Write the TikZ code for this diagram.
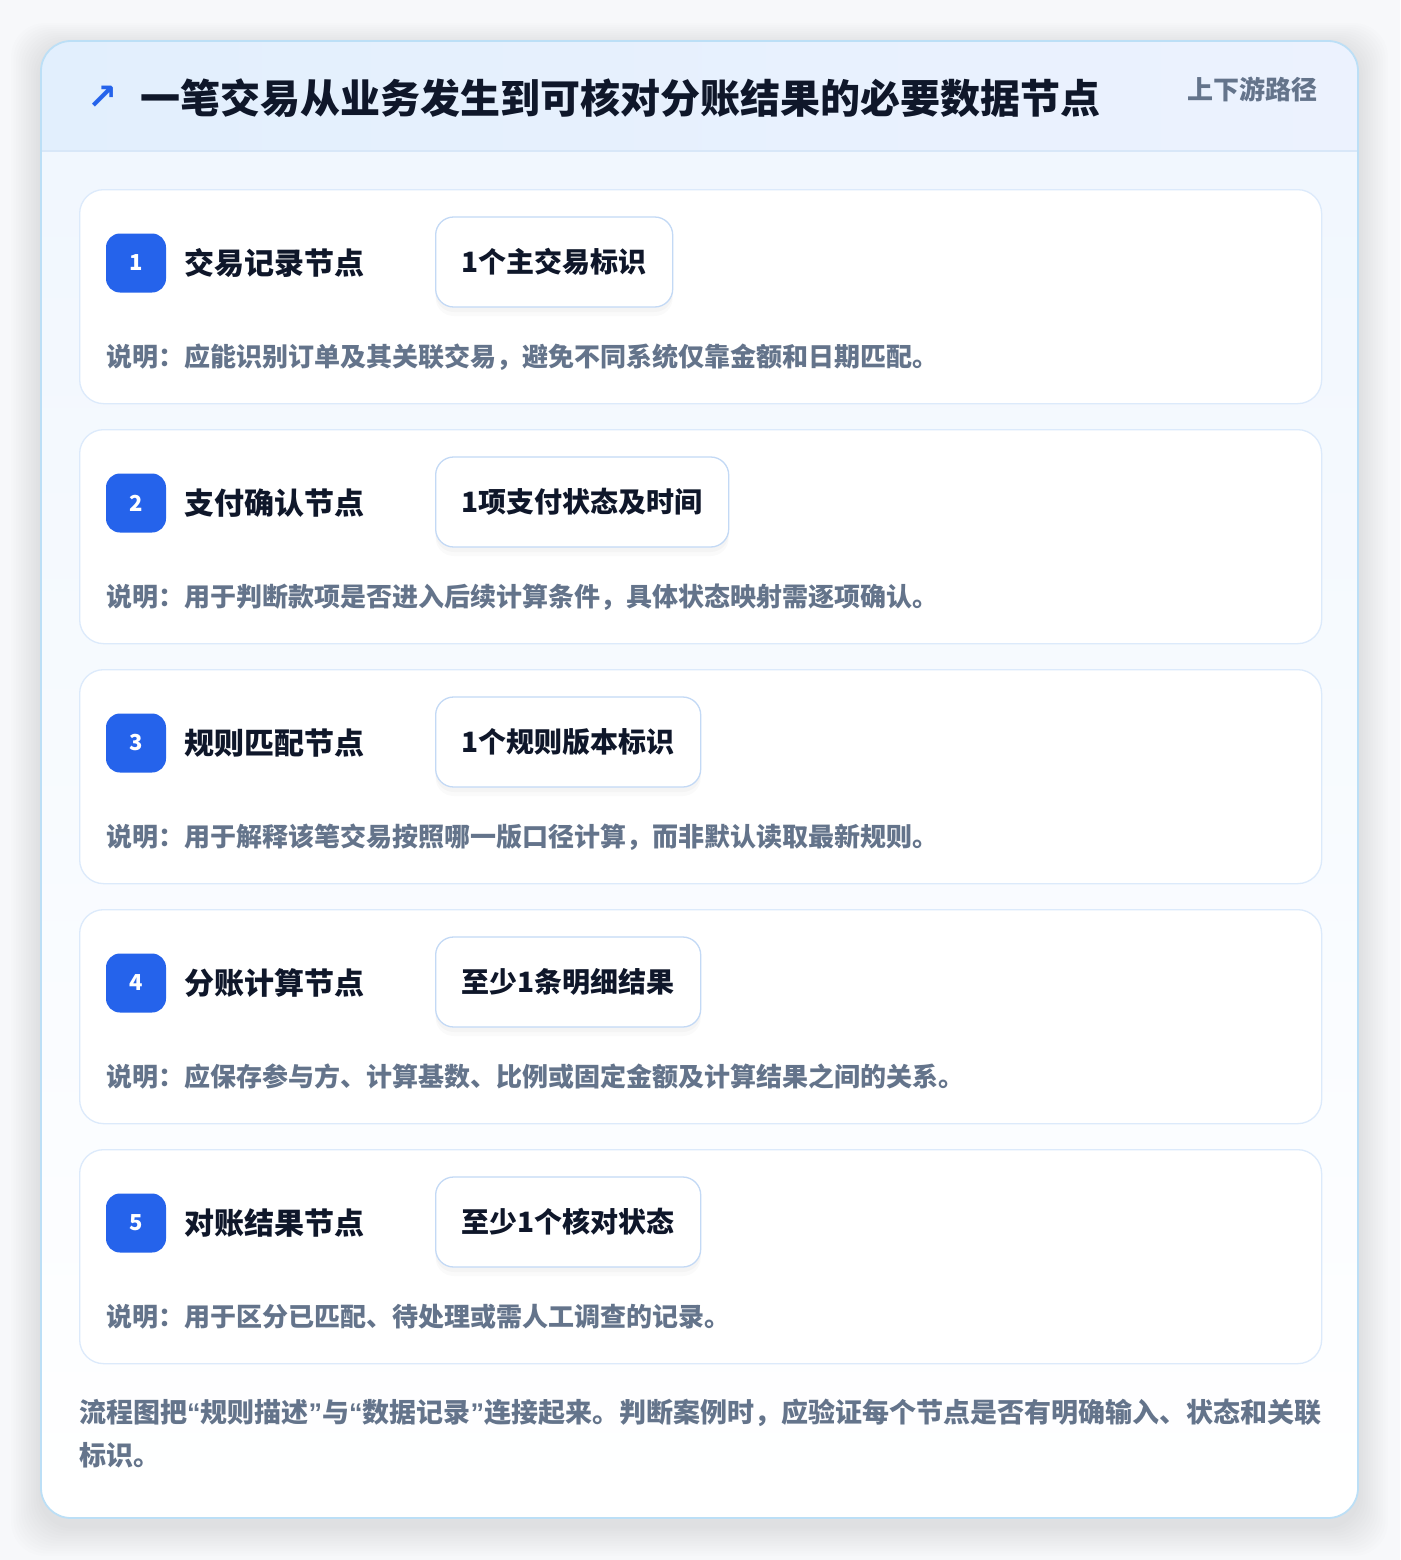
\documentclass[tikz,border=0pt]{standalone}
\usepackage{fontspec}
\setmainfont{Noto Sans CJK SC}
\newfontfamily\symfont{DejaVu Sans}
\newfontfamily\quotefont{Liberation Sans}
\newcommand{\quoted}[1]{{\quotefont\bfseries “}#1{\quotefont\bfseries ”}}
\usetikzlibrary{positioning,shadows}

\definecolor{pagebg}{HTML}{F7F8FA}
\definecolor{frameline}{HTML}{BCDFF6}
\definecolor{headA}{HTML}{E2EFFD}
\definecolor{headB}{HTML}{ECF2FE}
\definecolor{headline}{HTML}{D8E7F8}
\definecolor{bodyA}{HTML}{F1F7FE}
\definecolor{cardline}{HTML}{DCEAFB}
\definecolor{badgeblue}{HTML}{2563EB}
\definecolor{pillline}{HTML}{C3D9F5}
\definecolor{ink}{HTML}{0F172A}
\definecolor{muted}{HTML}{64748B}

\begin{document}
\begin{tikzpicture}[x=1pt,y=-1pt,
 card/.style={draw=cardline,line width=1.3pt,fill=white,rounded corners=24pt,
  minimum width=1242pt,minimum height=214pt,anchor=north west,inner sep=0pt},
 badge/.style={fill=badgeblue,rounded corners=14pt,minimum width=60pt,minimum height=59pt,
  inner sep=0pt,text=white,font=\fontsize{22}{26}\selectfont\bfseries},
 stagename/.style={inner sep=0pt,text=ink,font=\fontsize{30}{36}\selectfont\bfseries},
 pill/.style={draw=pillline,line width=1.3pt,fill=white,rounded corners=18pt,anchor=west,
  minimum height=90pt,inner xsep=26pt,text=ink,font=\fontsize{28}{34}\selectfont\bfseries,
  drop shadow={shadow xshift=0pt,shadow yshift=-9pt,opacity=0.018,fill=black},
  drop shadow={shadow xshift=0pt,shadow yshift=-5pt,opacity=0.022,fill=black}},
 note/.style={anchor=west,inner sep=0pt,text=muted,font=\fontsize{26}{32}\selectfont\bfseries}]
 \useasboundingbox (0,0) rectangle (1400,1560);
 \fill[pagebg] (0,0) rectangle (1400,1560);

 % soft shadow under the frame
 \foreach \k in {1,...,12}
  \fill[black,opacity=0.009,rounded corners=34pt]
   ({41-2.5*\k},{47-2*\k}) rectangle ({1358+2.5*\k},{1526+2.5*\k});

 % frame, header band and body
 \fill[white,rounded corners=30pt] (41,41) rectangle (1358,1518);
 \begin{scope}
  \clip[rounded corners=30pt] (41,41) rectangle (1358,1518);
  \shade[left color=headA,right color=headB] (41,41) rectangle (1358,151);
  \shade[top color=bodyA,bottom color=white] (41,151) rectangle (1358,1518);
 \end{scope}
 \draw[headline,line width=1.3pt] (41,151) -- (1358,151);
 \draw[frameline,line width=1.8pt,rounded corners=30pt] (41,41) rectangle (1358,1518);

 \node[anchor=west,inner sep=0pt,text=ink,font=\fontsize{40}{48}\selectfont\bfseries] (heading) at (140,98)
  {一笔交易从业务发生到可核对分账结果的必要数据节点};
 \node[left=22pt of heading,inner sep=0pt,text=badgeblue,font=\symfont\bfseries\fontsize{36}{40}\selectfont] (icon) {↗};
 \node[anchor=east,inner sep=0pt,text=muted,font=\fontsize{26}{30}\selectfont\bfseries] (tag) at (1318,89) {上下游路径};

 % the five stages
 \foreach \n/\name/\pilltext/\desc [count=\i from 0] in {
  1/交易记录节点/1个主交易标识/说明：应能识别订单及其关联交易，避免不同系统仅靠金额和日期匹配。,
  2/支付确认节点/1项支付状态及时间/说明：用于判断款项是否进入后续计算条件，具体状态映射需逐项确认。,
  3/规则匹配节点/1个规则版本标识/说明：用于解释该笔交易按照哪一版口径计算，而非默认读取最新规则。,
  4/分账计算节点/至少1条明细结果/说明：应保存参与方、计算基数、比例或固定金额及计算结果之间的关系。,
  5/对账结果节点/至少1个核对状态/说明：用于区分已匹配、待处理或需人工调查的记录。}
 {
  \node[card] (card\n) at (79,{189+240*\i}) {};
  \node[badge] (badge\n) at (136,{263+240*\i}) {\n};
  \node[stagename,right=18pt of badge\n] (stage\n) {\name};
  \node[pill] (pill\n) at (435,{262+240*\i}) {\pilltext};
  \node[note] (note\n) at (106,{357+240*\i}) {\desc};
 }

 \node[anchor=north west,align=left,inner sep=0pt,text=muted,
  font=\fontsize{27}{43}\selectfont\bfseries] (summary) at (79,1399)
  {流程图把\quoted{规则描述}与\quoted{数据记录}连接起来。判断案例时，应验证每个节点是否有明确输入、状态和关联\\标识。};
\end{tikzpicture}
\end{document}
